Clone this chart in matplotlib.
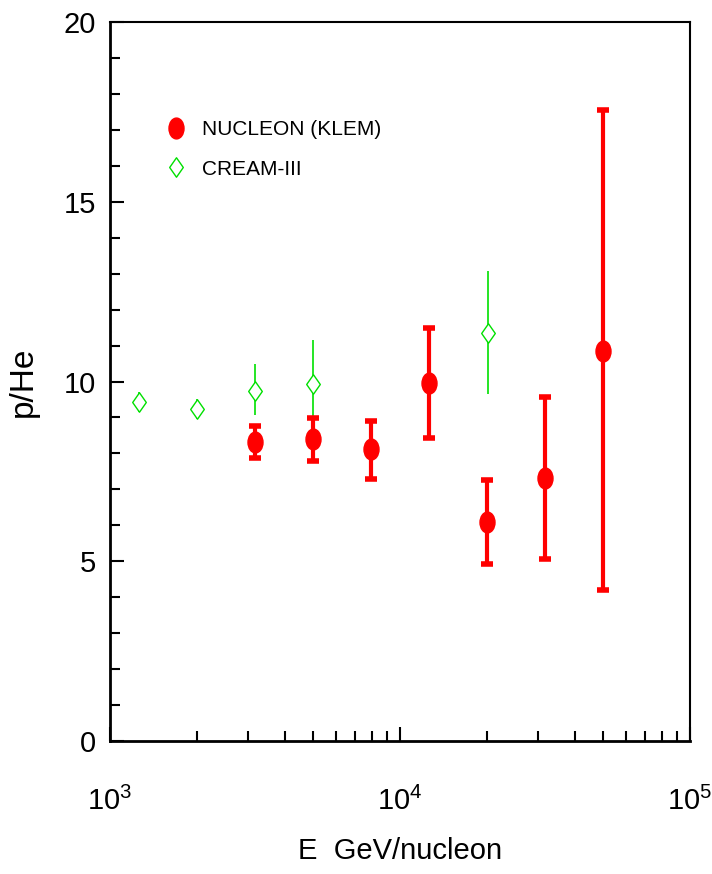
import numpy as np
import matplotlib
matplotlib.use("Agg")
import matplotlib.pyplot as plt
from matplotlib.path import Path
from matplotlib.ticker import FixedLocator, FixedFormatter, NullFormatter

plt.rcParams['font.family'] = ['Liberation Sans', 'DejaVu Sans']
plt.rcParams['mathtext.fontset'] = 'custom'
plt.rcParams['mathtext.rm'] = 'Liberation Sans'

# NUCLEON (KLEM) data
nuc_E = [3160, 5000, 7940, 12600, 20000, 31600, 50100]
nuc_r = [8.33, 8.39, 8.13, 9.97, 6.10, 7.31, 10.85]
nuc_up = [0.44, 0.59, 0.78, 1.53, 1.16, 2.25, 6.70]
nuc_lo = [0.47, 0.59, 0.83, 1.55, 1.19, 2.25, 6.65]

# CREAM-III data
cr_E = [1260, 2000, 3160, 5000, 20100]
cr_r = [9.44, 9.23, 9.74, 9.93, 11.34]
cr_up = [0.28, 0.28, 0.75, 1.22, 1.73]
cr_lo = [0.28, 0.28, 0.67, 1.19, 1.70]

xticks = [1e3, 1e4, 1e5]
xticklabels = ['10$^{3}$', '10$^{4}$', '10$^{5}$']
yticks = [0, 5, 10, 15, 20]

# elongated markers
ell = Path.unit_circle().transformed(matplotlib.transforms.Affine2D().scale(0.72, 1.0))
dia = Path([(0, -1), (0.7, 0), (0, 1), (-0.7, 0), (0, -1)],
           [Path.MOVETO, Path.LINETO, Path.LINETO, Path.LINETO, Path.CLOSEPOLY])

fig = plt.figure(figsize=(7.12, 8.74), dpi=100)
ax = fig.add_axes([0.1545, 0.1522, 0.8145, 0.8226])

ax.errorbar(cr_E, cr_r, yerr=[cr_lo, cr_up], fmt='none', ecolor='#00e000', elinewidth=1.2, capsize=0)
ax.plot(cr_E, cr_r, linestyle='none', marker=dia, markersize=14, markerfacecolor='white',
        markeredgecolor='#00e000', markeredgewidth=1.0, label='CREAM-III')

ax.errorbar(nuc_E, nuc_r, yerr=[nuc_lo, nuc_up], fmt='none', ecolor='red', elinewidth=3,
            capsize=4, capthick=4)
ax.plot(nuc_E, nuc_r, linestyle='none', marker=ell, markersize=15, color='red', label='NUCLEON (KLEM)')

ax.set_xscale('log')
ax.set_xlim(1e3, 1e5)
ax.set_ylim(0, 20)

ax.xaxis.set_major_locator(FixedLocator(xticks))
ax.xaxis.set_major_formatter(FixedFormatter(xticklabels))
ax.xaxis.set_minor_locator(FixedLocator([m * 10 ** e for e in (3, 4) for m in range(2, 10)]))
ax.xaxis.set_minor_formatter(NullFormatter())
ax.yaxis.set_major_locator(FixedLocator(yticks))
ax.yaxis.set_minor_locator(FixedLocator(np.arange(0, 21, 1)))

ax.tick_params(which='both', direction='in', top=False, right=False, width=1.5, labelsize=21)
ax.tick_params(which='major', length=10)
ax.tick_params(which='minor', length=7)
ax.tick_params(axis='x', pad=33)
ax.tick_params(axis='y', pad=10)

for s in ['left', 'bottom']:
    ax.spines[s].set_linewidth(2)
for s in ['top', 'right']:
    ax.spines[s].set_linewidth(1.5)

ax.set_xlabel('E  GeV/nucleon', fontsize=21, labelpad=15)
ax.set_ylabel('p/He', fontsize=24, labelpad=18)

handles, labels = ax.get_legend_handles_labels()
ax.legend(handles[::-1], labels[::-1], loc='upper left', bbox_to_anchor=(0.055, 0.89),
          frameon=False, fontsize=15, handletextpad=0.5, labelspacing=1.0, handlelength=1.5)

fig.savefig('out.png', dpi=100)
